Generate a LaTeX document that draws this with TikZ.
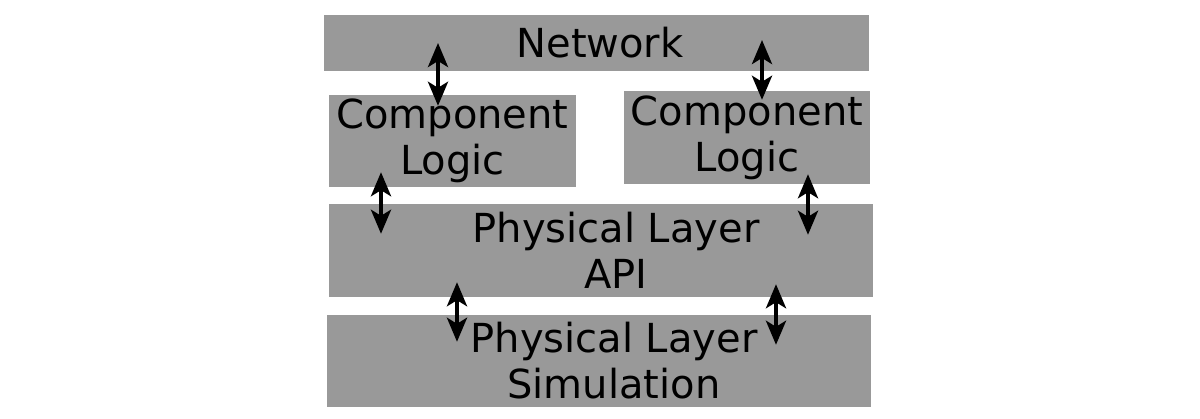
\documentclass[tikz,border=0pt]{standalone}
\usepackage{fontspec}
\setmainfont{DejaVu Sans}
\usetikzlibrary{arrows.meta}
\definecolor{layergray}{HTML}{999999}
\tikzset{
  layer/.style={fill=layergray,draw=none,inner sep=0pt,align=center,
    font=\fontsize{40}{46}\selectfont},
  dbl/.style={{Stealth[length=24pt,width=20pt,inset=6pt]}-{Stealth[length=24pt,width=20pt,inset=6pt]},line width=4pt},
  lbl/.style={align=center,inner sep=0pt,font=\fontsize{40}{46}\selectfont}
}
\begin{document}
\begin{tikzpicture}[x=1pt,y=-1pt]
  \useasboundingbox (0,0) rectangle (1200,419);
  % layers
  \node[layer,minimum width=545pt,minimum height=56pt] (net) at (596.5,43) {\hspace{7pt}Network};
  \node[layer,minimum width=247pt,minimum height=92pt] (cl1) at (452.5,141) {Component\\Logic};
  \node[layer,minimum width=246pt,minimum height=93pt] (cl2) at (747,137.5) {Component\\Logic};
  \node[layer,minimum width=544pt,minimum height=93pt] (api) at (601,250.5) {};
  \node[lbl] (apitext) at ([xshift=15pt]api.center) {Physical Layer\\API};
  \node[layer,minimum width=544pt,minimum height=92pt] (sim) at (599,361) {};
  \node[lbl] (simtext) at ([xshift=15pt]sim.center) {Physical Layer\\Simulation};
  % links
  \draw[dbl] ([xshift=-158.5pt]net.center) -- ([xshift=-14.5pt,yshift=-11pt]cl1.north);
  \draw[dbl] ([xshift=165.5pt,yshift=3pt]net.center) -- ([xshift=15pt,yshift=-9pt]cl2.north);
  \draw[dbl] ([xshift=-71.5pt,yshift=15pt]cl1.south) -- ([xshift=-220pt,yshift=-30pt]api.north);
  \draw[dbl] ([xshift=61pt,yshift=10pt]cl2.south) -- ([xshift=207pt,yshift=-31pt]api.north);
  \draw[dbl] ([xshift=-144pt,yshift=15pt]api.south) -- ([xshift=-142pt,yshift=-27pt]sim.north);
  \draw[dbl] ([xshift=175pt,yshift=13pt]api.south) -- ([xshift=177pt,yshift=-30pt]sim.north);
\end{tikzpicture}
\end{document}
